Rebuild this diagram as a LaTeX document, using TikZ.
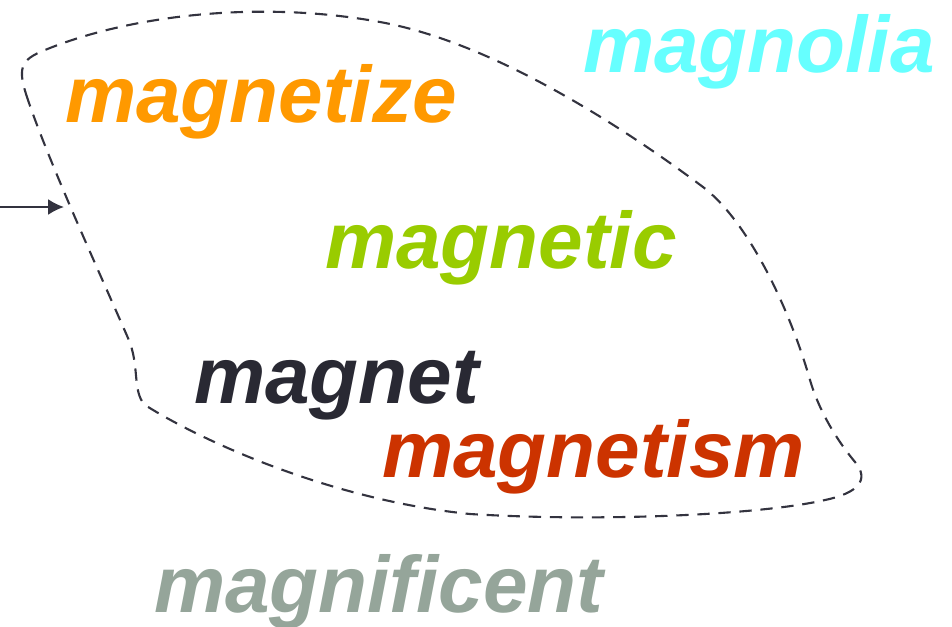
\documentclass[tikz,border=0pt]{standalone}
\usepackage{fontspec}
\setmainfont{Liberation Sans}
\usetikzlibrary{arrows.meta}
\definecolor{cMagnolia}{HTML}{66FFFF}
\definecolor{cMagnetize}{HTML}{FF9900}
\definecolor{cMagnetic}{HTML}{99CC00}
\definecolor{cMagnet}{HTML}{292933}
\definecolor{cMagnetism}{HTML}{CC3300}
\definecolor{cMagnificent}{HTML}{95A59A}
\definecolor{cLine}{HTML}{33333F}
\tikzset{
  word/.style={anchor=base west, inner sep=0pt, outer sep=0pt,
    font=\fontsize{45.6pt}{50pt}\selectfont\bfseries\itshape},
  outline/.style={draw=cLine, line width=1.2pt, dash pattern=on 7pt off 5pt},
  pointer/.style={draw=cLine, line width=1.1pt, -{Latex[length=9pt,width=9pt]}}
}
\begin{document}
\begin{tikzpicture}[x=0.02cm,y=-0.02cm]
\useasboundingbox (0,0) rectangle (952,626);
\draw[outline]
  (28,100) .. controls (17,68) and (20,60) .. (45,50)
  .. controls (130,15) and (260,0) .. (380,22)
  .. controls (480,40) and (600,110) .. (703,187)
  .. controls (749,222) and (790,310) .. (810,380)
  .. controls (818,408) and (835,438) .. (855,462)
  .. controls (870,480) and (858,493) .. (825,500)
  .. controls (760,515) and (600,522) .. (470,514)
  .. controls (330,500) and (200,440) .. (145,405)
  .. controls (132,392) and (140,365) .. (128,338)
  .. controls (105,285) and (50,165) .. (28,100) -- cycle;
\node[word, text=cMagnolia] (magnolia) at (583,72) {magnolia};
\node[word, text=cMagnetize] (magnetize) at (65,122) {magnetize};
\node[word, text=cMagnetic] (magnetic) at (325,268) {magnetic};
\node[word, text=cMagnet] (magnet) at (194,403) {magnet};
\node[word, text=cMagnetism] (magnetism) at (382,477) {magnetism};
\node[word, text=cMagnificent] (magnificent) at (154,612) {magnificent};
\coordinate (arrowstart) at (0,207);
\coordinate (arrowend) at (64,207);
\draw[pointer] (arrowstart) -- (arrowend);
\end{tikzpicture}
\end{document}
